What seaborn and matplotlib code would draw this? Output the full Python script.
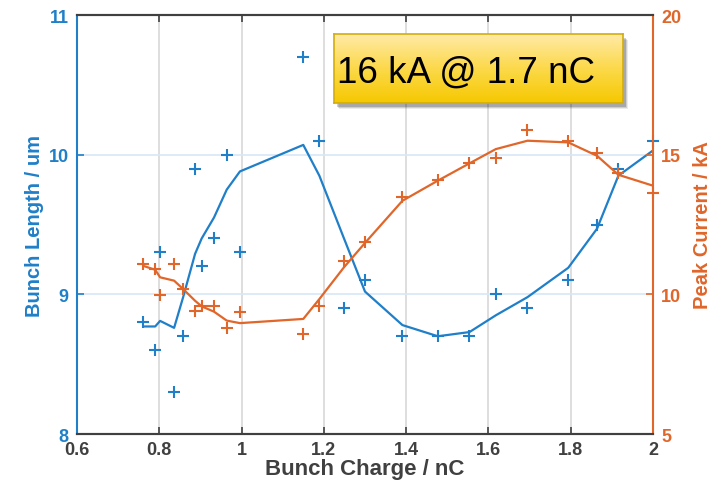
import numpy as np
import pandas as pd
import matplotlib
matplotlib.use("Agg")
import matplotlib.pyplot as plt
import seaborn as sns
from matplotlib.patches import Rectangle
from matplotlib.colors import LinearSegmentedColormap

# ---- data ----
charge = [0.761, 0.790, 0.802, 0.836, 0.858, 0.887, 0.903, 0.933, 0.964, 0.996,
          1.150, 1.189, 1.249, 1.300, 1.391, 1.477, 1.554, 1.618, 1.695, 1.794,
          1.864, 1.916, 2.000]
length_meas = [8.80, 8.60, 9.30, 8.30, 8.70, 9.90, 9.20, 9.40, 10.00, 9.30,
               10.70, 10.10, 8.90, 9.10, 8.70, 8.70, 8.70, 9.00, 8.90, 9.10,
               9.50, 9.90, 10.10]
length_fit = [8.77, 8.77, 8.81, 8.76, 8.98, 9.29, 9.40, 9.55, 9.75, 9.88,
              10.07, 9.85, 9.40, 9.02, 8.78, 8.70, 8.73, 8.85, 8.98, 9.19,
              9.47, 9.85, 10.03]
current_meas = [11.08, 10.91, 9.99, 11.09, 10.19, 9.39, 9.59, 9.59, 8.78, 9.38,
                8.58, 9.59, 11.18, 11.88, 13.50, 14.08, 14.70, 14.87, 15.88, 15.50,
                15.06, 14.33, 13.62]
current_fit = [11.02, 10.88, 10.61, 10.49, 10.19, 9.77, 9.57, 9.38, 9.06, 8.97,
               9.12, 9.83, 10.97, 11.84, 13.35, 14.07, 14.69, 15.20, 15.50, 15.44,
               14.96, 14.28, 13.89]
x_ticks = [0.6, 0.8, 1.0, 1.2, 1.4, 1.6, 1.8, 2.0]
x_ticklabels = ["0.6", "0.8", "1", "1.2", "1.4", "1.6", "1.8", "2"]
left_ticks = [8, 9, 10, 11]
right_ticks = [5, 10, 15, 20]
annotation = "16 kA @ 1.7 nC"

df = pd.DataFrame({"charge": charge, "length_meas": length_meas, "length_fit": length_fit,
                   "current_meas": current_meas, "current_fit": current_fit})

sns.set_style("white")
plt.rcParams['font.family'] = ['Liberation Sans', 'DejaVu Sans']

BLUE = "#1f7fc8"
ORANGE = "#e0662a"
DARK = "#404040"

fig = plt.figure(figsize=(7.17, 4.81), dpi=100)
ax = fig.add_axes([0.1074, 0.0956, 0.8033, 0.8711])
ax2 = ax.twinx()

# grid lines
for xv in x_ticks[1:-1]:
    ax.axvline(xv, color="#d8d8d8", lw=1.2, zorder=0)
for yv in [9, 10]:
    ax.axhline(yv, color="#d6e8f6", lw=1.2, zorder=0)

sns.lineplot(data=df, x="charge", y="length_fit", ax=ax, color=BLUE, lw=1.6, sort=False)
sns.scatterplot(data=df, x="charge", y="length_meas", ax=ax, color=BLUE, marker="+",
                s=80, linewidth=1.5, clip_on=False)
sns.lineplot(data=df, x="charge", y="current_fit", ax=ax2, color=ORANGE, lw=1.6, sort=False)
sns.scatterplot(data=df, x="charge", y="current_meas", ax=ax2, color=ORANGE, marker="+",
                s=80, linewidth=1.5, clip_on=False)

ax.set_xlim(0.6, 2.0)
ax.set_ylim(8, 11)
ax2.set_ylim(5, 20)
ax.set_xticks(x_ticks)
ax.set_xticklabels(x_ticklabels)
ax.set_yticks(left_ticks)
ax2.set_yticks(right_ticks)

TFS = 13
for lab in ax.get_xticklabels():
    lab.set_fontweight("bold"); lab.set_fontsize(TFS); lab.set_color(DARK)
for lab in ax.get_yticklabels():
    lab.set_fontweight("bold"); lab.set_fontsize(TFS); lab.set_color(BLUE)
for lab in ax2.get_yticklabels():
    lab.set_fontweight("bold"); lab.set_fontsize(TFS); lab.set_color(ORANGE)

ax.set_xlabel("Bunch Charge / nC", fontsize=16, fontweight="bold", color=DARK, labelpad=0)
ax.set_ylabel("Bunch Length / um", fontsize=14.5, fontweight="bold", color=BLUE, labelpad=3)
ax2.set_ylabel("Peak Current / kA", fontsize=14.5, fontweight="bold", color=ORANGE, labelpad=8)

for a in (ax, ax2):
    for s in a.spines.values():
        s.set_linewidth(1.5)
ax.spines["left"].set_color(BLUE)
ax2.spines["left"].set_visible(False)
ax.spines["right"].set_visible(False)
ax2.spines["right"].set_color(ORANGE)
for a in (ax, ax2):
    a.spines["top"].set_color(DARK)
    a.spines["bottom"].set_color(DARK)

ax.tick_params(axis="x", direction="in", length=5, width=1.2, color=DARK, top=True, bottom=True, pad=5)
ax.tick_params(axis="y", direction="in", length=5, width=1.2, color=BLUE, pad=6)
ax2.tick_params(axis="y", direction="in", length=5, width=1.2, color=ORANGE, pad=6)

# annotation box with gradient and shadow
bl, bb, bw, bh = 334 / 717, 1 - 104 / 481, 289 / 717, 69 / 481
for k, al in enumerate([0.08, 0.12, 0.18]):
    off = 5 - k
    shadow = Rectangle((bl + off / 717, bb - (off + 1) / 481), bw, bh, transform=fig.transFigure,
                       facecolor="#000000", alpha=al, edgecolor="none", zorder=9)
    fig.patches.append(shadow)
bax = fig.add_axes([bl, bb, bw, bh], zorder=10)
grad = np.linspace(0, 1, 256).reshape(-1, 1)
cmap = LinearSegmentedColormap.from_list("yel", ["#ffeaa6", "#fcd94a", "#f6c800"])
bax.imshow(grad, aspect="auto", cmap=cmap, extent=[0, 1, 0, 1])
bax.set_xticks([]); bax.set_yticks([])
for s in bax.spines.values():
    s.set_color("#d2ad10"); s.set_linewidth(1.2)
bax.text(0.012, 0.45, annotation, fontsize=26.5, color="black", ha="left", va="center",
         transform=bax.transAxes)

fig.savefig("out.png", dpi=100, facecolor="white")
